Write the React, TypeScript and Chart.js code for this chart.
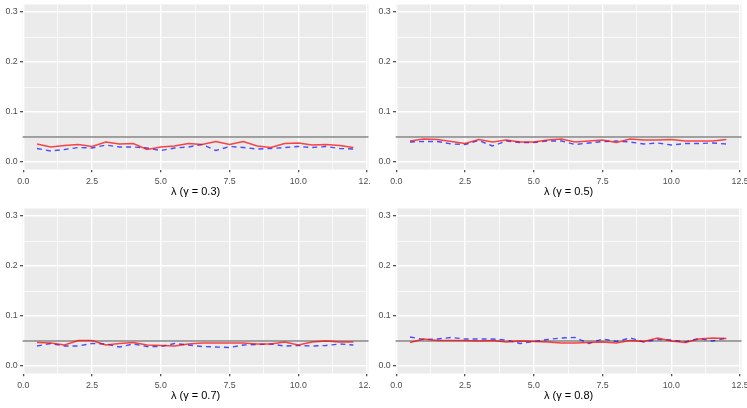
import React, { useEffect, useRef } from "react";
import { Chart, registerables } from "chart.js";

Chart.register(...registerables);

// ---------- data ----------
const lambdas = [0.5, 1, 1.5, 2, 2.5, 3, 3.5, 4, 4.5, 5, 5.5, 6, 6.5, 7, 7.5, 8, 8.5, 9, 9.5, 10, 10.5, 11, 11.5, 12];

const red03 = [0.036, 0.030, 0.033, 0.035, 0.031, 0.040, 0.036, 0.037, 0.025, 0.030, 0.032, 0.037, 0.035, 0.041, 0.035, 0.041, 0.032, 0.029, 0.037, 0.038, 0.034, 0.035, 0.033, 0.029];
const blue03 = [0.027, 0.022, 0.025, 0.029, 0.028, 0.034, 0.030, 0.030, 0.028, 0.023, 0.028, 0.030, 0.035, 0.023, 0.031, 0.029, 0.026, 0.027, 0.029, 0.031, 0.029, 0.031, 0.027, 0.026];

const red05 = [0.042, 0.046, 0.045, 0.041, 0.037, 0.045, 0.040, 0.044, 0.040, 0.040, 0.044, 0.046, 0.040, 0.042, 0.044, 0.039, 0.046, 0.044, 0.044, 0.045, 0.042, 0.042, 0.042, 0.045];
const blue05 = [0.040, 0.041, 0.041, 0.036, 0.035, 0.043, 0.032, 0.042, 0.039, 0.039, 0.042, 0.042, 0.035, 0.038, 0.041, 0.042, 0.040, 0.036, 0.038, 0.034, 0.037, 0.037, 0.038, 0.036];

const red07 = [0.047, 0.046, 0.042, 0.051, 0.051, 0.042, 0.045, 0.047, 0.042, 0.041, 0.040, 0.044, 0.046, 0.046, 0.046, 0.046, 0.044, 0.044, 0.048, 0.042, 0.048, 0.050, 0.048, 0.048];
const blue07 = [0.040, 0.045, 0.040, 0.040, 0.045, 0.044, 0.038, 0.044, 0.039, 0.039, 0.045, 0.042, 0.039, 0.038, 0.037, 0.042, 0.043, 0.044, 0.040, 0.041, 0.040, 0.041, 0.044, 0.042];

const red08 = [0.047, 0.054, 0.051, 0.051, 0.051, 0.050, 0.051, 0.048, 0.050, 0.049, 0.048, 0.046, 0.046, 0.047, 0.048, 0.046, 0.051, 0.049, 0.056, 0.050, 0.047, 0.054, 0.056, 0.055];
const blue08 = [0.058, 0.053, 0.054, 0.057, 0.054, 0.054, 0.054, 0.052, 0.045, 0.049, 0.053, 0.056, 0.057, 0.045, 0.054, 0.049, 0.056, 0.048, 0.053, 0.052, 0.048, 0.055, 0.050, 0.056];

const gammas = ["0.3", "0.5", "0.7", "0.8"];
const alphaLevel = 0.05;

const xMajorTicks = [0, 2.5, 5, 7.5, 10, 12.5];
const xMinorTicks = [1.25, 3.75, 6.25, 8.75, 11.25];
const yMajorTicks = [0, 0.1, 0.2, 0.3];
const yMinorTicks = [0.05, 0.15, 0.25];
const xLimits = [-0.02, 12.55];
const yLimits = [-0.015, 0.315];

const panels = [
  { gamma: gammas[0], red: red03, blue: blue03 },
  { gamma: gammas[1], red: red05, blue: blue05 },
  { gamma: gammas[2], red: red07, blue: blue07 },
  { gamma: gammas[3], red: red08, blue: blue08 },
];

const FONT = "'Liberation Sans', Arial, Helvetica, sans-serif";

const panelBg = {
  id: "panelBg",
  beforeDraw(chart: any) {
    const { ctx, chartArea } = chart;
    ctx.save();
    ctx.fillStyle = "#EBEBEB";
    ctx.fillRect(chartArea.left, chartArea.top, chartArea.right - chartArea.left, chartArea.bottom - chartArea.top);
    ctx.restore();
  },
  beforeDatasetsDraw(chart: any) {
    const { ctx, chartArea, scales } = chart;
    const y = scales.y.getPixelForValue(alphaLevel);
    ctx.save();
    ctx.strokeStyle = "#858585";
    ctx.lineWidth = 1.5;
    ctx.beginPath();
    ctx.moveTo(chartArea.left, y);
    ctx.lineTo(chartArea.right, y);
    ctx.stroke();
    ctx.restore();
  },
};

const fmt = (v: number) => v.toFixed(1);

function Panel({ gamma, red, blue }: { gamma: string; red: number[]; blue: number[] }) {
  const ref = useRef<HTMLCanvasElement>(null);
  useEffect(() => {
    if (!ref.current) return;
    const isMajorX = (v: number) => xMajorTicks.some((t) => Math.abs(t - v) < 1e-9);
    const isMajorY = (v: number) => yMajorTicks.some((t) => Math.abs(t - v) < 1e-9);
    const chart = new Chart(ref.current, {
      type: "line",
      data: {
        datasets: [
          {
            data: lambdas.map((x, i) => ({ x, y: red[i] })),
            borderColor: "rgba(255,0,0,0.72)",
            borderWidth: 1.4,
            pointRadius: 0,
            tension: 0,
            fill: false,
          },
          {
            data: lambdas.map((x, i) => ({ x, y: blue[i] })),
            borderColor: "rgba(0,0,255,0.68)",
            borderWidth: 1.4,
            borderDash: [5, 4],
            pointRadius: 0,
            tension: 0,
            fill: false,
          },
        ],
      },
      options: {
        animation: false,
        responsive: false,
        maintainAspectRatio: false,
        layout: { padding: { top: 4.5, right: 5.5, bottom: 0, left: 0 } },
        plugins: { legend: { display: false }, tooltip: { enabled: false } },
        scales: {
          x: {
            type: "linear",
            min: xLimits[0],
            max: xLimits[1],
            afterBuildTicks: (s: any) => {
              s.ticks = [...xMajorTicks, ...xMinorTicks].sort((a, b) => a - b).map((v) => ({ value: v }));
            },
            afterFit: (s: any) => {
              s.height = 34.5;
              s.paddingLeft = 0;
              s.paddingRight = 0;
            },
            border: { display: false },
            grid: {
              color: "#FFFFFF",
              lineWidth: (c: any) => (isMajorX(c.tick.value) ? 1.42 : 0.71),
              tickColor: (c: any) => (isMajorX(c.tick.value) ? "#333333" : "rgba(0,0,0,0)"),
              tickLength: 2.75,
              tickWidth: 1.1,
            },
            ticks: {
              autoSkip: false,
              maxRotation: 0,
              padding: 4,
              color: "#4D4D4D",
              font: { family: FONT, size: 8.8 },
              callback: (v: any) => (isMajorX(Number(v)) ? fmt(Number(v)) : ""),
            },
            title: {
              display: true,
              text: `λ (γ = ${gamma})`,
              color: "#000000",
              font: { family: FONT, size: 11 },
              padding: { top: 0, bottom: 5 },
            },
          },
          y: {
            type: "linear",
            min: yLimits[0],
            max: yLimits[1],
            afterBuildTicks: (s: any) => {
              s.ticks = [...yMajorTicks, ...yMinorTicks].sort((a, b) => a - b).map((v) => ({ value: v }));
            },
            afterFit: (s: any) => {
              s.width = 22.7;
              s.paddingTop = 0;
              s.paddingBottom = 0;
            },
            border: { display: false },
            grid: {
              color: "#FFFFFF",
              lineWidth: (c: any) => (isMajorY(c.tick.value) ? 1.42 : 0.71),
              tickColor: (c: any) => (isMajorY(c.tick.value) ? "#333333" : "rgba(0,0,0,0)"),
              tickLength: 2.75,
              tickWidth: 1.1,
            },
            ticks: {
              autoSkip: false,
              padding: 2.2,
              color: "#4D4D4D",
              font: { family: FONT, size: 8.8 },
              callback: (v: any) => (isMajorY(Number(v)) ? fmt(Number(v)) : ""),
            },
          },
        },
      },
      plugins: [panelBg],
    } as any);
    return () => chart.destroy();
  }, [gamma, red, blue]);
  return <canvas ref={ref} width={374} height={204} style={{ display: "block", width: 374, height: 204 }} />;
}

export default function App() {
  const pos = [
    { left: 0, top: 0, clip: 371 },
    { left: 373, top: 0, clip: 374 },
    { left: 0, top: 204, clip: 371 },
    { left: 373, top: 204, clip: 374 },
  ];
  return (
    <div style={{ position: "absolute", left: 0, top: 0, width: 747, height: 408, background: "#FFFFFF", overflow: "hidden" }}>
      {panels.map((p, i) => (
        <div key={p.gamma} style={{ position: "absolute", left: pos[i].left, top: pos[i].top, width: pos[i].clip, height: 204, overflow: "hidden" }}>
          <div style={{ position: "relative", width: 374, height: 204 }}>
            <Panel gamma={p.gamma} red={p.red} blue={p.blue} />
          </div>
        </div>
      ))}
    </div>
  );
}
